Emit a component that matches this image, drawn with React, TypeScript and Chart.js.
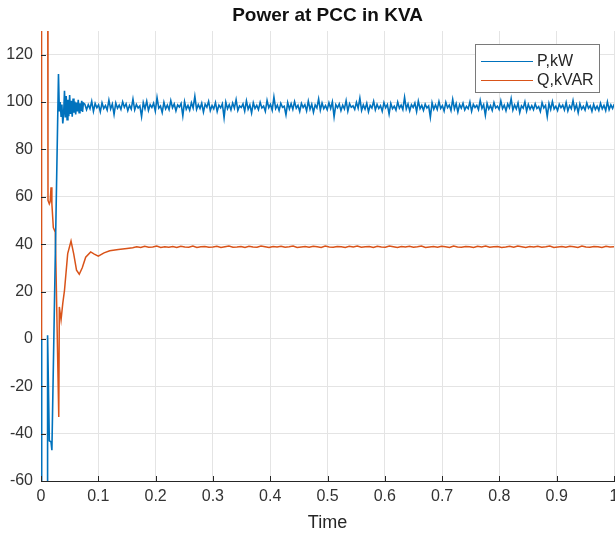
import React, { useEffect, useRef } from "react";
import { Chart, registerables } from "chart.js";

Chart.register(...registerables);

const titleText = "Power at PCC in KVA";
const xLabel = "Time";
const seriesNames = ["P,kW", "Q,kVAR"];
const xTicks = [0, 0.1, 0.2, 0.3, 0.4, 0.5, 0.6, 0.7, 0.8, 0.9, 1];
const yTicks = [-60, -40, -20, 0, 20, 40, 60, 80, 100, 120];

// P (blue) start-up transient: time / value
const pTransT = [0, 0.0012, 0.0105, 0.0115, 0.0145, 0.0175, 0.019, 0.0305, 0.032, 0.0335, 0.035, 0.0365, 0.038, 0.0395, 0.041, 0.0425, 0.044, 0.0455, 0.047, 0.0485, 0.05, 0.0515, 0.053, 0.0545, 0.056, 0.0575, 0.059, 0.0605, 0.062, 0.0635, 0.065, 0.0665, 0.068, 0.0695, 0.071, 0.0725, 0.074];
const pTransV = [0, -200, -200, 1.5, -43, -43.5, -47, 111.8, 96, 100, 94, 99, 91, 95, 104.8, 93.5, 102.5, 92.5, 101, 94, 103, 95, 100.5, 93.8, 101.5, 95.5, 100.2, 94.8, 99.8, 96, 101, 95.5, 99.5, 96.2, 100.5, 95.8, 99.6];

// P steady state, sampled every pStep from pStart
const pStart = 0.0765;
const pStep = 0.003;
const pSteadyV = [
  99.1, 96.8, 98.9, 97.2, 100.3, 96.1, 99.4, 97.6, 98.8, 95.9,
  99.7, 97.3, 98.5, 96.6, 100.8, 97.1, 99.2, 94.8, 99.6, 97.4,
  98.7, 96.9, 100.1, 97.8, 99.3, 96.4, 98.6, 97.0, 101.2, 96.7,
  99.0, 97.5, 98.4, 93.9, 99.8, 97.2, 100.4, 96.5, 98.9, 97.7,
  99.5, 96.2, 101.9, 97.4, 98.3, 95.6, 99.9, 97.1, 98.7, 96.8,
  100.6, 97.6, 99.2, 96.3, 98.8, 97.9, 99.4, 94.2, 100.2, 97.0,
  98.6, 96.6, 99.7, 97.5, 102.4, 96.9, 98.9, 97.3, 99.5, 95.8,
  99.1, 97.8, 100.3, 96.4, 98.5, 97.1, 99.8, 96.0, 98.7, 97.6,
  99.3, 93.4, 100.0, 97.2, 98.9, 96.7, 99.6, 97.4, 101.0, 96.5,
  98.4, 97.7, 99.2, 96.2, 100.5, 97.0, 98.8, 95.4, 99.7, 97.3,
  98.6, 96.8, 99.9, 97.5, 98.3, 96.1, 100.7, 97.6, 99.0, 96.6,
  102.1, 97.2, 98.7, 96.4, 99.5, 97.8, 98.2, 94.6, 99.8, 97.1,
  99.3, 96.9, 100.2, 97.4, 98.6, 96.0, 99.4, 97.7, 98.9, 96.3,
  100.4, 97.0, 99.1, 95.7, 98.8, 97.5, 101.3, 96.6, 99.6, 97.2,
  98.5, 96.8, 99.7, 97.3, 100.1, 93.8, 98.9, 97.6, 99.2, 96.4,
  98.7, 97.1, 100.6, 96.2, 99.3, 97.8, 98.4, 96.9, 99.9, 97.4,
  101.6, 96.5, 98.8, 97.0, 99.5, 95.9, 98.6, 97.5, 100.3, 96.7,
  99.0, 97.3, 98.5, 96.1, 99.8, 97.6, 98.9, 94.9, 99.4, 97.2,
  98.3, 96.6, 100.0, 97.4, 98.7, 96.8, 102.0, 97.1, 99.2, 96.3,
  98.9, 97.7, 99.6, 96.0, 100.4, 97.2, 98.6, 96.5, 99.1, 97.5,
  98.4, 93.6, 99.7, 97.0, 98.8, 96.9, 100.2, 97.3, 98.5, 96.2,
  99.9, 97.6, 98.7, 96.4, 101.1, 97.1, 99.3, 95.8, 98.9, 97.4,
  99.5, 96.7, 98.2, 97.2, 100.0, 96.1, 99.0, 97.7, 98.6, 96.8,
  100.7, 97.3, 98.9, 94.4, 99.4, 97.0, 98.5, 96.5, 99.8, 97.5,
  98.3, 96.9, 100.5, 97.2, 98.7, 96.3, 99.2, 97.6, 101.4, 96.6,
  98.8, 97.1, 99.6, 95.6, 98.4, 97.4, 100.1, 96.2, 99.0, 97.0,
  98.5, 96.8, 99.3, 97.3, 98.1, 96.0, 99.7, 97.5, 98.6, 93.9,
  99.4, 96.9, 100.2, 97.1, 98.2, 96.4, 99.1, 97.6, 98.7, 96.7,
  99.8, 96.3, 98.5, 97.2, 100.6, 96.8, 98.9, 95.5, 99.3, 97.0,
  98.2, 96.6, 99.6, 97.4, 98.4, 96.1, 99.0, 96.9, 98.3, 96.5,
  99.5, 97.1, 98.6, 96.4, 100.1, 96.8, 98.8, 97.3, 99.2,
];

// Q (orange) start-up transient: time / value
const qTransT = [0, 0.001, 0.0115, 0.0122, 0.0145, 0.016, 0.0175, 0.019, 0.0215, 0.025, 0.031, 0.032, 0.035, 0.038, 0.041, 0.0466, 0.0524, 0.057, 0.062, 0.0668, 0.072, 0.078, 0.0867, 0.093, 0.1, 0.11, 0.12, 0.135, 0.15];
const qTransV = [0, 200, 200, 58.5, 57, 58, 64, 57, 47, 45, -33, 13.5, 8, 15, 20.5, 36, 41.3, 36, 29, 27.3, 30, 34.5, 36.7, 35.8, 34.9, 36.3, 37.2, 37.7, 38.2];

// Q steady state, sampled every qStep from qStart
const qStart = 0.16;
const qStep = 0.007;
const qSteadyV = [
  38.5, 38.9, 38.6, 39.1, 38.7, 38.8, 39.2, 38.6, 38.9, 38.7,
  39.0, 38.6, 39.1, 38.8, 38.7, 39.2, 38.6, 38.9, 39.0, 38.7,
  38.8, 39.1, 38.6, 38.9, 39.2, 38.7, 38.8, 39.0, 38.6, 39.1,
  38.8, 38.7, 39.2, 38.9, 38.6, 39.0, 38.8, 39.1, 38.7, 38.9,
  39.2, 38.6, 38.8, 39.0, 38.7, 39.1, 38.9, 38.6, 39.2, 38.8,
  38.7, 39.0, 38.9, 38.6, 39.1, 38.8, 39.2, 38.7, 38.9, 39.0,
  38.6, 39.1, 38.8, 38.7, 39.2, 38.9, 38.6, 39.0, 38.8, 39.1,
  38.7, 38.9, 39.2, 38.6, 38.8, 39.0, 38.7, 39.1, 38.9, 38.6,
  39.2, 38.8, 38.7, 39.0, 38.9, 38.6, 39.1, 38.8, 39.2, 38.7,
  38.9, 39.0, 38.6, 38.8, 39.1, 38.7, 39.2, 38.9, 38.6, 39.0,
  38.8, 39.1, 38.7, 38.9, 39.2, 38.6, 38.8, 39.0, 38.7, 39.1,
  38.9, 38.6, 39.2, 38.8, 38.7, 39.0, 38.9, 38.6, 39.1, 38.8, 38.9,
];

const BLUE = "#0072BD";
const ORANGE = "#D95319";
const FONT = '"Liberation Sans", Arial, Helvetica, sans-serif';

function buildSeries(tt: number[], tv: number[], start: number, step: number, sv: number[]) {
  const pts = tt.map((t, i) => ({ x: t, y: tv[i] }));
  sv.forEach((v, i) => pts.push({ x: start + i * step, y: v }));
  return pts;
}

const decorPlugin = {
  id: "decor",
  afterDraw(chart: any) {
    const ctx = chart.ctx as CanvasRenderingContext2D;
    const { left, right, bottom } = chart.chartArea;
    const xs = chart.scales.x;
    const ys = chart.scales.y;
    ctx.save();
    // inward tick marks
    ctx.strokeStyle = "#262626";
    ctx.lineWidth = 1;
    ctx.beginPath();
    xTicks.forEach((v) => {
      const px = Math.round(xs.getPixelForValue(v)) + 0.5;
      ctx.moveTo(px, bottom);
      ctx.lineTo(px, bottom - 5);
    });
    yTicks.forEach((v) => {
      const py = Math.round(ys.getPixelForValue(v)) + 0.5;
      ctx.moveTo(left, py);
      ctx.lineTo(left + 5, py);
    });
    ctx.stroke();

    const cx = (left + right) / 2;
    // title
    ctx.fillStyle = "#111111";
    ctx.font = `bold 19px ${FONT}`;
    ctx.textAlign = "center";
    ctx.textBaseline = "middle";
    ctx.fillText(titleText, cx, 16);
    // x label
    ctx.fillStyle = "#262626";
    ctx.font = `18px ${FONT}`;
    ctx.fillText(xLabel, cx, 523);

    // legend
    const bx = 475.5, by = 44.5, bw = 124, bh = 48;
    ctx.fillStyle = "#ffffff";
    ctx.fillRect(bx, by, bw, bh);
    ctx.strokeStyle = "#7a7a7a";
    ctx.lineWidth = 1;
    ctx.strokeRect(bx, by, bw, bh);
    const colors = [BLUE, ORANGE];
    const rows = [61, 80];
    ctx.font = `16px ${FONT}`;
    ctx.textAlign = "left";
    seriesNames.forEach((name, i) => {
      ctx.strokeStyle = colors[i];
      ctx.beginPath();
      ctx.moveTo(481, rows[i] + 0.5);
      ctx.lineTo(533, rows[i] + 0.5);
      ctx.stroke();
      ctx.fillStyle = "#262626";
      ctx.fillText(name, 537, rows[i] + 1);
    });
    ctx.restore();
  },
};

export default function App() {
  const ref = useRef<HTMLCanvasElement>(null);
  useEffect(() => {
    if (!ref.current) return;
    const pData = buildSeries(pTransT, pTransV, pStart, pStep, pSteadyV);
    const qData = buildSeries(qTransT, qTransV, qStart, qStep, qSteadyV);
    const chart = new Chart(ref.current, {
      type: "line",
      data: {
        datasets: [
          { label: seriesNames[0], data: pData, borderColor: BLUE, borderWidth: 1.6, pointRadius: 0, tension: 0, fill: false },
          { label: seriesNames[1], data: qData, borderColor: ORANGE, borderWidth: 1.5, pointRadius: 0, tension: 0, fill: false },
        ],
      },
      options: {
        animation: false,
        responsive: false,
        devicePixelRatio: 1,
        events: [],
        layout: { padding: { top: 31, right: 1, left: 0, bottom: 0 } },
        plugins: { legend: { display: false }, title: { display: false }, tooltip: { enabled: false } },
        scales: {
          x: {
            type: "linear",
            min: 0,
            max: 1,
            afterBuildTicks: (s: any) => {
              s.ticks = xTicks.map((v) => ({ value: v }));
            },
            afterFit: (s: any) => {
              s.height = 52;
              s.paddingLeft = 0;
              s.paddingRight = 0;
            },
            grid: { color: "#e4e4e4", lineWidth: 1, drawTicks: false, tickLength: 0 },
            border: { color: "#262626", width: 1 },
            ticks: {
              autoSkip: false,
              maxRotation: 0,
              padding: 6,
              color: "#333333",
              font: { family: FONT, size: 16 },
              callback: (v: any) => String(v),
            },
          },
          y: {
            type: "linear",
            min: -60,
            max: 130,
            afterBuildTicks: (s: any) => {
              s.ticks = yTicks.map((v) => ({ value: v }));
            },
            afterFit: (s: any) => {
              s.width = 41;
              s.paddingTop = 0;
              s.paddingBottom = 0;
            },
            grid: { color: "#e4e4e4", lineWidth: 1, drawTicks: false, tickLength: 0 },
            border: { color: "#262626", width: 1 },
            ticks: {
              autoSkip: false,
              padding: 8,
              color: "#333333",
              font: { family: FONT, size: 16 },
              callback: (v: any) => String(v),
            },
          },
        },
      },
      plugins: [decorPlugin],
    });
    return () => chart.destroy();
  }, []);

  return (
    <div style={{ position: "absolute", left: 0, top: 0, width: 615, height: 533, background: "#ffffff" }}>
      <canvas ref={ref} width={615} height={533} style={{ width: 615, height: 533, display: "block" }} />
    </div>
  );
}
